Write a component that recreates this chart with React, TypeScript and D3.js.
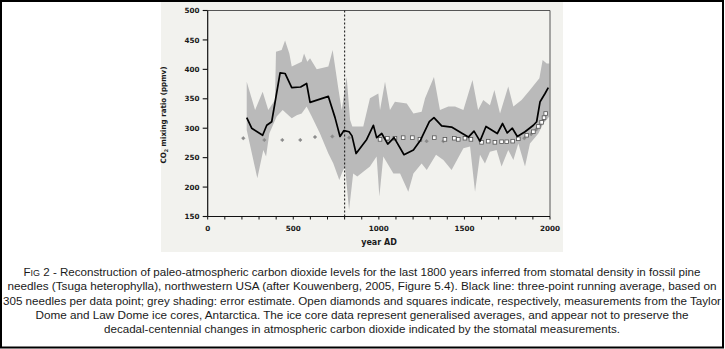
import React from "react";
import * as d3 from "d3";

// Stomatal CO2 reconstruction (three-point running average)
const lineYears = [228, 257, 321, 345, 374, 423, 452, 491, 543, 578, 598, 705, 744, 773, 796, 826, 843, 867, 929, 968, 987, 1017, 1052, 1089, 1147, 1202, 1244, 1295, 1322, 1367, 1425, 1483, 1523, 1556, 1591, 1626, 1692, 1723, 1750, 1780, 1809, 1854, 1903, 1922, 1942, 1971, 1990];
const lineValues = [318, 300, 288, 305, 311, 394, 393, 369, 370, 376, 344, 354, 318, 286, 296, 294, 287, 257, 281, 305, 284, 291, 273, 284, 255, 263, 280, 311, 318, 304, 302, 292, 285, 295, 278, 303, 291, 308, 292, 300, 286, 294, 305, 311, 345, 359, 369];

// Error estimate (grey shading): upper bound
const upperYears = [228, 277, 321, 354, 393, 399, 432, 452, 477, 491, 549, 563, 582, 598, 637, 705, 730, 763, 783, 812, 832, 845, 909, 948, 997, 1007, 1036, 1065, 1094, 1163, 1202, 1250, 1270, 1322, 1357, 1406, 1445, 1494, 1547, 1580, 1610, 1649, 1675, 1708, 1756, 1786, 1834, 1883, 1938, 1957, 1981, 1996];
const upperValues = [379, 331, 362, 331, 348, 430, 433, 449, 427, 405, 413, 427, 413, 419, 400, 405, 433, 368, 331, 387, 314, 303, 303, 351, 359, 331, 379, 331, 345, 342, 325, 328, 351, 387, 331, 337, 337, 331, 382, 331, 348, 339, 365, 325, 371, 337, 348, 365, 385, 416, 410, 410];
// lower bound
const lowerYears = [228, 290, 325, 341, 360, 403, 438, 491, 520, 549, 578, 608, 656, 705, 734, 769, 783, 802, 826, 850, 874, 909, 948, 987, 1003, 1026, 1085, 1124, 1172, 1202, 1250, 1280, 1334, 1377, 1425, 1494, 1533, 1562, 1591, 1620, 1649, 1688, 1717, 1756, 1786, 1815, 1854, 1883, 1932, 1961, 1996];
const lowerValues = [297, 215, 263, 252, 291, 320, 331, 317, 322, 325, 337, 320, 291, 257, 240, 212, 223, 235, 161, 223, 218, 226, 235, 252, 184, 252, 223, 223, 192, 223, 240, 229, 255, 246, 229, 266, 269, 192, 255, 240, 260, 263, 235, 263, 246, 274, 235, 274, 291, 308, 320];

// Taylor Dome (diamonds)
const diamondYears = [208, 331, 436, 541, 627, 728, 826, 1050, 1279, 1377, 1530, 1590, 1850, 1890, 1920, 1945, 1962];
const diamondValues = [283, 280, 280, 280, 285, 286, 284, 281, 278, 278, 283, 279, 283, 290, 298, 307, 314];

// Law Dome (squares)
const squareYears = [1007, 1050, 1094, 1142, 1196, 1240, 1324, 1386, 1441, 1464, 1503, 1538, 1600, 1639, 1678, 1717, 1747, 1782, 1815, 1864, 1903, 1932, 1951, 1965, 1975];
const squareValues = [281, 283, 283, 284, 284, 281, 284, 281, 283, 281, 283, 281, 276, 278, 276, 277, 277, 278, 282, 288, 294, 303, 310, 318, 325];

const yTicks = [150, 200, 250, 300, 350, 400, 450, 500];
const xTickLabels = [0, 500, 1000, 1500, 2000];
const xMinorTicks = d3.range(0, 2001, 100);

const captionLines = [
  "2 - Reconstruction of paleo-atmospheric carbon dioxide levels for the last 1800 years inferred from stomatal density in fossil pine",
  "needles (Tsuga heterophylla), northwestern USA (after Kouwenberg, 2005, Figure 5.4). Black line: three-point running average, based on",
  "305 needles per data point; grey shading: error estimate. Open diamonds and squares indicate, respectively, measurements from the Taylor",
  "Dome and Law Dome ice cores, Antarctica. The ice core data represent generalised averages, and appear not to preserve the",
  "decadal-centennial changes in atmospheric carbon dioxide indicated by the stomatal measurements.",
];
const captionWidths = [677, 709, 718, 653, 516];

export default function App() {
  const W = 725, H = 349;
  const x = d3.scaleLinear().domain([0, 2000]).range([207.7, 550]);
  const y = d3.scaleLinear().domain([150, 500]).range([216.5, 10.5]);

  const upper = upperYears.map((yr, i) => [x(yr), y(upperValues[i])] as [number, number]);
  const lower = lowerYears.map((yr, i) => [x(yr), y(lowerValues[i])] as [number, number]);
  const bandPath = (d3.line()([...upper, ...lower.reverse()]) || "") + "Z";
  const linePath = d3.line()(lineYears.map((yr, i) => [x(yr), y(lineValues[i])] as [number, number])) || "";

  const tickFont = "'DejaVu Sans', sans-serif";
  const capFont = "'Liberation Sans', Arial, sans-serif";

  return (
    <svg width={W} height={H} style={{ position: "absolute", left: 0, top: 0, background: "#fff" }}>
      <rect x={0} y={0} width={W} height={H} fill="#fff" />
      <rect x={161} y={2} width={402} height={250} fill="#f2f2ee" />
      <path d={bandPath} fill="#bababa" stroke="none" />
      {/* plot frame */}
      <line x1={x(0)} x2={x(2000)} y1={y(500)} y2={y(500)} stroke="#444" strokeWidth={0.9} />
      <line x1={x(2000)} x2={x(2000)} y1={y(500)} y2={y(150)} stroke="#444" strokeWidth={0.9} />
      <line x1={x(0)} x2={x(0)} y1={y(500)} y2={y(150)} stroke="#111" strokeWidth={1.2} />
      <line x1={x(0)} x2={x(2000)} y1={y(150)} y2={y(150)} stroke="#111" strokeWidth={1.2} />
      {/* dashed line at AD 800 */}
      <line x1={x(800)} x2={x(800)} y1={y(500)} y2={y(150)} stroke="#222" strokeWidth={1.1} strokeDasharray="2,2" />
      {/* y ticks */}
      {yTicks.map((t) => (
        <g key={"y" + t}>
          <line x1={x(0) - 5} x2={x(0)} y1={y(t)} y2={y(t)} stroke="#111" strokeWidth={1.1} />
          <text x={199.5} y={y(t) + 2.6} textAnchor="end" fontFamily={tickFont} fontWeight={700} fontSize={7.2} fill="#1a1a1a">{t}</text>
        </g>
      ))}
      {/* x ticks */}
      {xMinorTicks.map((t) => (
        <line key={"xm" + t} x1={x(t)} x2={x(t)} y1={y(150)} y2={y(150) + 3} stroke="#111" strokeWidth={1} />
      ))}
      {xTickLabels.map((t) => (
        <text key={"xl" + t} x={x(t)} y={230.5} textAnchor="middle" fontFamily={tickFont} fontWeight={700} fontSize={7.2} fill="#1a1a1a">{t}</text>
      ))}
      <text x={379} y={245} textAnchor="middle" fontFamily={tickFont} fontWeight={700} fontSize={8} fill="#1a1a1a">year AD</text>
      <text transform="translate(165.5,115) rotate(-90)" textAnchor="middle" fontFamily={tickFont} fontWeight={700} fontSize={7.5} fill="#1a1a1a" textLength={97} lengthAdjust="spacingAndGlyphs">
        CO<tspan fontSize={5} dy={2}>2</tspan><tspan dy={-2}> mixing ratio (ppmv)</tspan>
      </text>
      {/* ice core data */}
      {diamondYears.map((yr, i) => (
        <path key={"d" + i} d={`M${x(yr)},${y(diamondValues[i]) - 1.8}l1.8,1.8l-1.8,1.8l-1.8,-1.8z`} fill="#8a8a8a" stroke="#8a8a8a" strokeWidth={0.5} />
      ))}
      {squareYears.map((yr, i) => (
        <rect key={"s" + i} x={x(yr) - 1.8} y={y(squareValues[i]) - 1.8} width={3.6} height={3.6} fill="#fff" stroke="#555" strokeWidth={0.8} />
      ))}
      <path d={linePath} fill="none" stroke="#000" strokeWidth={1.7} strokeLinejoin="round" />
      {/* caption */}
      {captionLines.map((line, i) => (
        <text key={"c" + i} x={362} y={276 + i * 14.3} textAnchor="middle" fontFamily={capFont} fontSize={11} fill="#1a1a1a" textLength={captionWidths[i]} lengthAdjust="spacingAndGlyphs">
          {i === 0 ? (<><tspan>F</tspan><tspan fontSize={8.5}>IG</tspan><tspan> {line}</tspan></>) : line}
        </text>
      ))}
      {/* outer frame */}
      <rect x={1} y={1} width={722} height={346.5} fill="none" stroke="#000" strokeWidth={2} />
    </svg>
  );
}
